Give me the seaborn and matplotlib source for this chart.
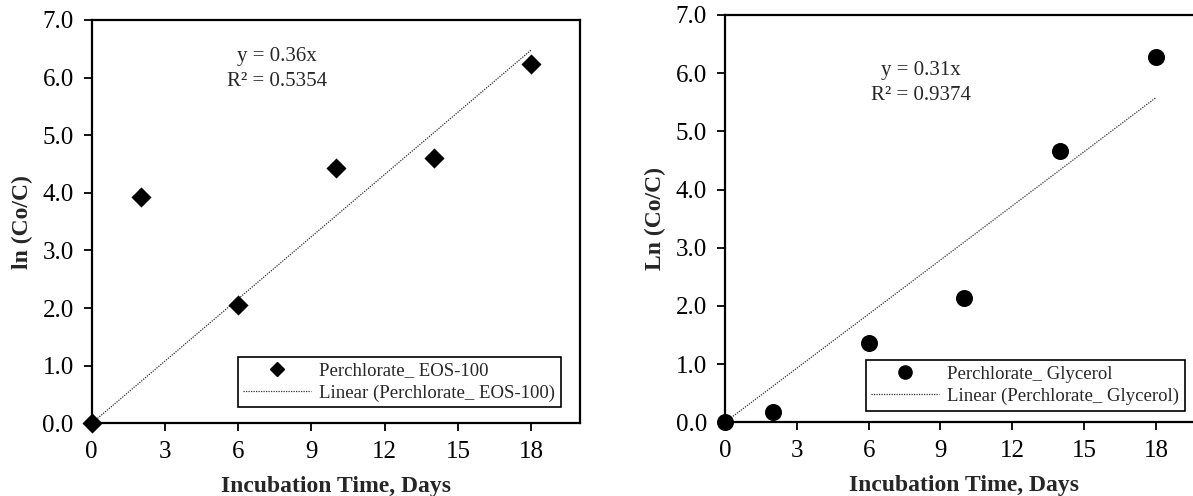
import matplotlib
matplotlib.use("Agg")
import matplotlib.pyplot as plt
import seaborn as sns
import pandas as pd

# Incubation data: ln(Co/C) of perchlorate versus time for two amendments
days = [0, 2, 6, 10, 14, 18]
eos_ln = [0.0, 3.92, 2.05, 4.43, 4.61, 6.23]
gly_ln = [0.0, 0.18, 1.36, 2.13, 4.67, 6.27]

# Linear fits forced through the origin
eos_slope, eos_r2 = 0.36, 0.5354
gly_slope, gly_r2 = 0.31, 0.9374

x_ticks = [0, 3, 6, 9, 12, 15, 18]
y_ticks = [0, 1, 2, 3, 4, 5, 6, 7]

sns.set_theme(style="white")
plt.rcParams["font.family"] = ["Liberation Serif", "DejaVu Serif"]

fig = plt.figure(figsize=(11.93, 4.96), dpi=100)
ax1 = fig.add_axes([0.0769, 0.1466, 0.4093, 0.8131])
ax2 = fig.add_axes([0.6077, 0.1486, 0.4014, 0.8212])


def panel(ax, y, slope, r2, marker, msize, name, ylabel, eq_xy, legend_anchor, leg_msize):
    df = pd.DataFrame({"Days": days, "ln": y})
    sns.scatterplot(data=df, x="Days", y="ln", marker=marker, s=msize, color="black",
                    edgecolor="black", linewidth=0, ax=ax, clip_on=False, zorder=4,
                    legend=False)
    fit = pd.DataFrame({"Days": [0, 18], "fit": [0, slope * 18]})
    sns.lineplot(data=fit, x="Days", y="fit", ax=ax, color="#333333", linewidth=0.9,
                 linestyle=(0, (1, 1)), zorder=3, legend=False)

    ax.set_xlim(0, 20)
    ax.set_ylim(0, 7)
    ax.set_xticks(x_ticks)
    ax.set_yticks(y_ticks)
    ax.set_yticklabels([f"{v:.1f}" for v in y_ticks])
    ax.tick_params(axis="both", which="major", direction="out", length=6, width=1.3,
                   labelsize=18, color="black", labelcolor="black", pad=7,
                   bottom=True, left=True)
    for sp in ax.spines.values():
        sp.set_color("black")
        sp.set_linewidth(1.6)
    ax.set_xlabel("Incubation Time, Days", fontsize=17, fontweight="bold", labelpad=9)
    ax.set_ylabel(ylabel, fontsize=17, fontweight="bold", labelpad=7)

    ax.text(eq_xy[0], eq_xy[1], f"y = {slope:.2f}x\nR² = {r2:.4f}", ha="center", va="center",
            fontsize=15, linespacing=1.4)

    h_pts = plt.Line2D([], [], marker=marker, color="black", linestyle="none", markersize=leg_msize)
    h_line = plt.Line2D([], [], color="#333333", linewidth=0.9, linestyle=(0, (1, 1)))
    leg = ax.legend([h_pts, h_line], [f"Perchlorate_ {name}", f"Linear (Perchlorate_ {name})"],
                    loc="lower right", bbox_to_anchor=legend_anchor, fontsize=13.5,
                    frameon=True, fancybox=False, edgecolor="black", framealpha=1,
                    handlelength=3.6, handletextpad=0.45, borderpad=0.3, labelspacing=0.25,
                    borderaxespad=0)
    leg.get_frame().set_linewidth(1.2)
    leg.set_zorder(5)


panel(ax1, eos_ln, eos_slope, eos_r2, "D", 105, "EOS-100", "ln (Co/C)", (7.6, 6.15),
      (0.961, 0.040), 7.5)
panel(ax2, gly_ln, gly_slope, gly_r2, "o", 150, "Glycerol", "Ln (Co/C)", (8.2, 5.83),
      (0.9605, 0.0285), 9.5)

fig.savefig("out.png", dpi=100)
